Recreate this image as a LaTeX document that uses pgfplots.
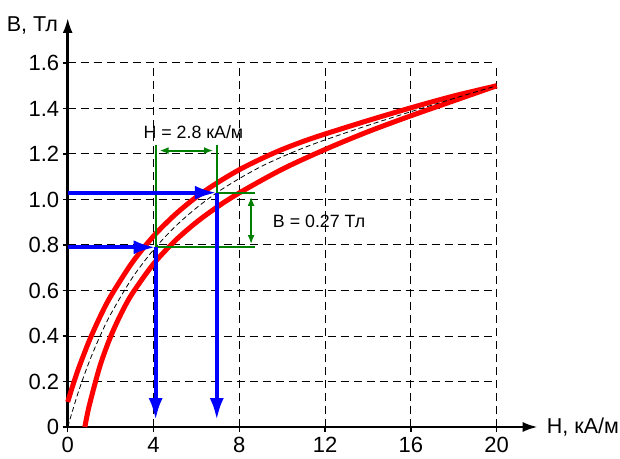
\documentclass[border=0pt]{standalone}
\usepackage{fontspec}
\setmainfont{Liberation Sans}
\usepackage{pgfplots}
\pgfplotsset{compat=1.18}
\usetikzlibrary{arrows.meta}
\definecolor{dkgreen}{RGB}{0,128,0}
\newcommand{\bigfont}{\fontsize{22bp}{26bp}\selectfont}

\begin{document}
\begin{tikzpicture}
\begin{axis}[
    at={(0,0)}, anchor=origin,
    scale only axis,
    width=429bp, height=364bp,
    xmin=0, xmax=20, ymin=0, ymax=1.6,
    enlargelimits=false,
    clip=false,
    axis lines=left,
    axis line style={line width=2.5bp, -{Latex[length=15bp,width=10bp]}},
    x axis line style={shorten >=-41bp},
    y axis line style={shorten >=-45bp},
    grid=major,
    grid style={black, line width=1bp, dash pattern=on 8bp off 5bp},
    xtick={0,4,8,12,16,20},
    xticklabels={\bigfont 0,\bigfont 4,\bigfont 8,\bigfont 12,\bigfont 16,\bigfont 20},
    ytick={0,0.2,0.4,0.6,0.8,1.0,1.2,1.4,1.6},
    yticklabels={\bigfont 0,\bigfont 0.2,\bigfont 0.4,\bigfont 0.6,\bigfont 0.8,
                 \bigfont 1.0,\bigfont 1.2,\bigfont 1.4,\bigfont 1.6},
    tick align=outside,
    major tick length=5bp,
    tick style={black, line width=1.5bp},
    xticklabel style={yshift=-2bp},
]
% upper branch
\addplot[red, line width=5bp, smooth] coordinates {
    (0,0.11) (0.25,0.186) (0.5,0.256) (1,0.378) (1.5,0.483) (2,0.574)
    (3,0.722) (4,0.839) (5,0.933) (6,1.011) (7,1.075) (8,1.131)
    (9,1.178) (10,1.22) (11,1.256) (12,1.288) (14,1.347) (16,1.403)
    (18,1.455) (20,1.5)
};
% lower branch
\addplot[red, line width=5bp, smooth] coordinates {
    (0.8,0) (1,0.092) (1.5,0.267) (2,0.397) (2.5,0.5) (3,0.585)
    (4,0.717) (5,0.818) (6,0.9) (7,0.969) (8,1.029) (10,1.133)
    (12,1.22) (14,1.298) (16,1.368) (18,1.434) (20,1.5)
};
% mean curve
\addplot[black, line width=0.8bp, dash pattern=on 5bp off 3bp, smooth] coordinates {
    (0,0) (0.5,0.155) (1,0.286) (1.5,0.398) (2,0.495) (3,0.654)
    (4,0.779) (5,0.88) (6,0.963) (7,1.033) (8,1.092) (9,1.144)
    (10,1.188) (11,1.227) (12,1.262) (14,1.326) (16,1.386) (18,1.444)
    (20,1.5)
};

% green dimension lines
\addplot[dkgreen, line width=2bp] coordinates {(4.1,1.24) (4.1,0.79) (8.75,0.79)};
\addplot[dkgreen, line width=2bp] coordinates {(6.95,1.24) (6.95,1.03) (8.75,1.03)};
\addplot[dkgreen, line width=2bp, {Latex[length=9bp,width=7bp]}-{Latex[length=9bp,width=7bp]}]
    coordinates {(4.28,1.215) (6.78,1.215)};
\addplot[dkgreen, line width=2bp, {Latex[length=9bp,width=7bp]}-{Latex[length=9bp,width=7bp]}]
    coordinates {(8.55,1.012) (8.55,0.804)};

% blue arrows
\addplot[blue, line width=4bp, -{Latex[length=22bp,width=14bp]}] coordinates {(0,0.79) (4.1,0.79)};
\addplot[blue, line width=4bp, -{Latex[length=22bp,width=14bp]}] coordinates {(4.1,0.79) (4.1,0.03)};
\addplot[blue, line width=4bp, -{Latex[length=22bp,width=14bp]}] coordinates {(0,1.03) (6.95,1.03)};
\addplot[blue, line width=4bp, -{Latex[length=22bp,width=14bp]}] coordinates {(6.95,1.03) (6.95,0.03)};

\node[font=\fontsize{17.8bp}{21bp}\selectfont, inner sep=0] at (axis cs:5.86,1.294) {H = 2.8 кА/м};
\node[font=\fontsize{17.8bp}{21bp}\selectfont, inner sep=0] at (axis cs:11.72,0.905) {B = 0.27 Тл};

\node[font=\fontsize{21.5bp}{25bp}\selectfont, inner sep=0, anchor=east] at (axis cs:-0.45,1.765) {B, Тл};
\node[font=\fontsize{21.5bp}{25bp}\selectfont, inner sep=0, anchor=west] at (axis cs:22.33,0) {H, кА/м};
\end{axis}
\pgfresetboundingbox
\path[use as bounding box] (-67.7bp,-32bp) rectangle (552.3bp,427bp);
\end{tikzpicture}
\end{document}
